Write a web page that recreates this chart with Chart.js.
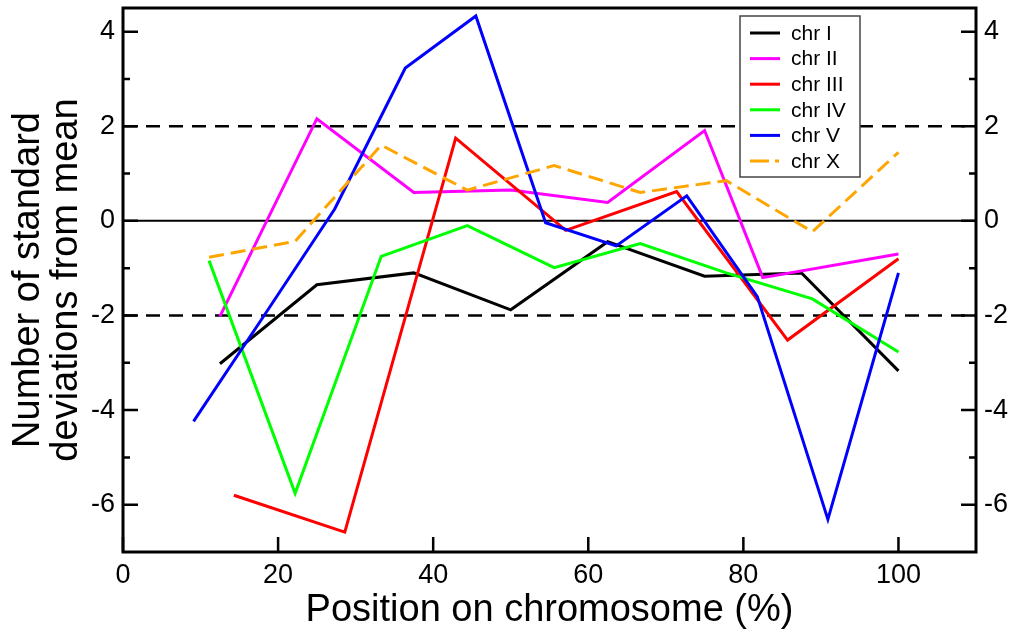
<!DOCTYPE html>
<html>
<head>
<meta charset="utf-8">
<script src="https://cdn.jsdelivr.net/npm/chart.js@4/dist/chart.umd.min.js"></script>
<style>
  html, body { margin: 0; padding: 0; background: #fff; }
  #wrap { width: 1018px; height: 632px; position: relative; }
</style>
</head>
<body>
<div id="wrap"><canvas id="chart"></canvas></div>
<script>
// values (position %, deviations from mean)
const chr1Pos = [12.5, 25, 37.5, 50, 62.5, 75, 87.5, 100];
const chr1Dev = [-3.02, -1.35, -1.1, -1.88, -0.44, -1.17, -1.1, -3.17];

const chr2Pos = [12.5, 25, 37.5, 50, 62.5, 75, 82.5, 100];
const chr2Dev = [-2.02, 2.16, 0.6, 0.65, 0.39, 1.91, -1.2, -0.7];

const chr3Pos = [14.3, 28.6, 42.9, 57.1, 71.4, 85.7, 100];
const chr3Dev = [-5.8, -6.58, 1.75, -0.2, 0.62, -2.52, -0.8];

const chr4Pos = [11.1, 22.2, 33.3, 44.4, 55.6, 66.7, 77.8, 88.9, 100];
const chr4Dev = [-0.84, -5.76, -0.75, -0.1, -0.99, -0.48, -1.1, -1.65, -2.77];

const chr5Pos = [9.1, 18.2, 27.3, 36.4, 45.5, 54.5, 63.6, 72.7, 81.8, 90.9, 100];
const chr5Dev = [-4.24, -2.0, 0.25, 3.23, 4.33, -0.04, -0.53, 0.53, -1.6, -6.31, -1.1];

const chrXPos = [11.1, 22.2, 33.3, 44.4, 55.6, 66.7, 77.8, 88.9, 100];
const chrXDev = [-0.77, -0.43, 1.6, 0.65, 1.17, 0.6, 0.85, -0.23, 1.45];

const xTicks = [0, 20, 40, 60, 80, 100];
const yTicks = [-6, -4, -2, 0, 2, 4];
const yMinorTicks = [-5, -3, -1, 1, 3];
const dashedLevels = [-2, 2];
const zeroLevel = 0;

const toPoints = (xs, ys) => xs.map((x, i) => ({ x: x, y: ys[i] }));
const refLine = (level) => [{ x: 0, y: level }, { x: 110, y: level }];

Chart.defaults.font.family = '"Liberation Sans", Arial, Helvetica, sans-serif';
Chart.defaults.color = '#000';

const series = (label, xs, ys, color, order, dash) => ({
  label: label,
  data: toPoints(xs, ys),
  borderColor: color,
  backgroundColor: color,
  borderWidth: 3,
  borderDash: dash || [],
  pointRadius: 0,
  tension: 0,
  fill: false,
  order: order
});

const datasets = [
  series('chr I', chr1Pos, chr1Dev, '#000000', 6),
  series('chr II', chr2Pos, chr2Dev, '#ff00ff', 5),
  series('chr III', chr3Pos, chr3Dev, '#ff0000', 4),
  series('chr IV', chr4Pos, chr4Dev, '#00ff00', 3),
  series('chr V', chr5Pos, chr5Dev, '#0000ff', 2),
  series('chr X', chrXPos, chrXDev, '#ffa500', 1, [15, 7])
];

// reference lines at 0 and +-2
datasets.push({ data: refLine(zeroLevel), borderColor: '#000', borderWidth: 2, pointRadius: 0, order: 10, isRef: true });
dashedLevels.forEach(lv => {
  datasets.push({ data: refLine(lv), borderColor: '#000', borderWidth: 2.5, borderDash: [14, 9], pointRadius: 0, order: 10, isRef: true });
});

// frame, inward ticks and boxed legend
const framePlugin = {
  id: 'frame',
  afterDatasetsDraw(chart) {
    const { ctx, chartArea: a, scales } = chart;
    ctx.save();
    ctx.strokeStyle = '#000';
    ctx.lineWidth = 2.5;
    ctx.beginPath();
    xTicks.forEach(v => {
      const px = scales.x.getPixelForValue(v);
      ctx.moveTo(px, a.bottom); ctx.lineTo(px, a.bottom - 15);
    });
    yTicks.forEach(v => {
      const py = scales.y.getPixelForValue(v);
      ctx.moveTo(a.left, py); ctx.lineTo(a.left + 15, py);
      ctx.moveTo(a.right, py); ctx.lineTo(a.right - 15, py);
    });
    yMinorTicks.forEach(v => {
      const py = scales.y.getPixelForValue(v);
      ctx.moveTo(a.left, py); ctx.lineTo(a.left + 7, py);
      ctx.moveTo(a.right, py); ctx.lineTo(a.right - 7, py);
    });
    ctx.stroke();
    ctx.lineWidth = 3;
    ctx.strokeRect(a.left, a.top, a.right - a.left, a.bottom - a.top);

    // legend box
    const items = chart.data.datasets.filter(d => !d.isRef);
    const bx = 740, by = 16, bw = 120, bh = 161, row = 25.6;
    ctx.fillStyle = '#fff';
    ctx.fillRect(bx, by, bw, bh);
    ctx.lineWidth = 1.5;
    ctx.strokeStyle = '#444';
    ctx.strokeRect(bx, by, bw, bh);
    ctx.font = '21px "Liberation Sans", Arial, sans-serif';
    ctx.textBaseline = 'middle';
    items.forEach((d, i) => {
      const y = by + 17 + i * row;
      ctx.strokeStyle = d.borderColor;
      ctx.lineWidth = 3;
      ctx.setLineDash(d.borderDash && d.borderDash.length ? [19, 6, 4, 40] : []);
      ctx.beginPath();
      ctx.moveTo(bx + 10, y); ctx.lineTo(bx + 40, y);
      ctx.stroke();
      ctx.setLineDash([]);
      ctx.fillStyle = '#000';
      ctx.fillText(d.label, bx + 51, y + 1);
    });
    ctx.restore();
  }
};

const yScale = (pos, width) => ({
  type: 'linear',
  position: pos,
  min: -7,
  max: 4.5,
  grid: { display: false, drawTicks: false },
  border: { display: false },
  ticks: { font: { size: 27 }, padding: 8, color: '#000' },
  afterBuildTicks: s => { s.ticks = yTicks.map(v => ({ value: v })); },
  afterFit: s => { s.width = width; s.paddingTop = 0; s.paddingBottom = 0; }
});

const yLeft = yScale('left', 123);
yLeft.title = {
  display: true,
  text: ['Number of standard', 'deviations from mean'],
  font: { size: 38, lineHeight: 1 },
  padding: { top: 10, bottom: 0 },
  color: '#000'
};
const yRight = yScale('right', 42);

new Chart(document.getElementById('chart'), {
  type: 'line',
  data: { datasets: datasets },
  options: {
    responsive: true,
    maintainAspectRatio: false,
    animation: false,
    layout: { padding: { top: 8, left: 0, right: 0, bottom: 0 } },
    plugins: { legend: { display: false }, tooltip: { enabled: false } },
    scales: {
      x: {
        type: 'linear',
        min: 0,
        max: 110,
        grid: { display: false, drawTicks: false },
        border: { display: false },
        ticks: { font: { size: 27 }, padding: 7, color: '#000' },
        afterBuildTicks: s => { s.ticks = xTicks.map(v => ({ value: v })); },
        afterFit: s => { s.height = 80; s.paddingLeft = 0; s.paddingRight = 0; },
        title: {
          display: true,
          text: 'Position on chromosome (%)',
          font: { size: 38, lineHeight: 1 },
          padding: { top: 0, bottom: 2 },
          color: '#000'
        }
      },
      y: yLeft,
      y2: yRight
    }
  },
  plugins: [framePlugin]
});
</script>
</body>
</html>
